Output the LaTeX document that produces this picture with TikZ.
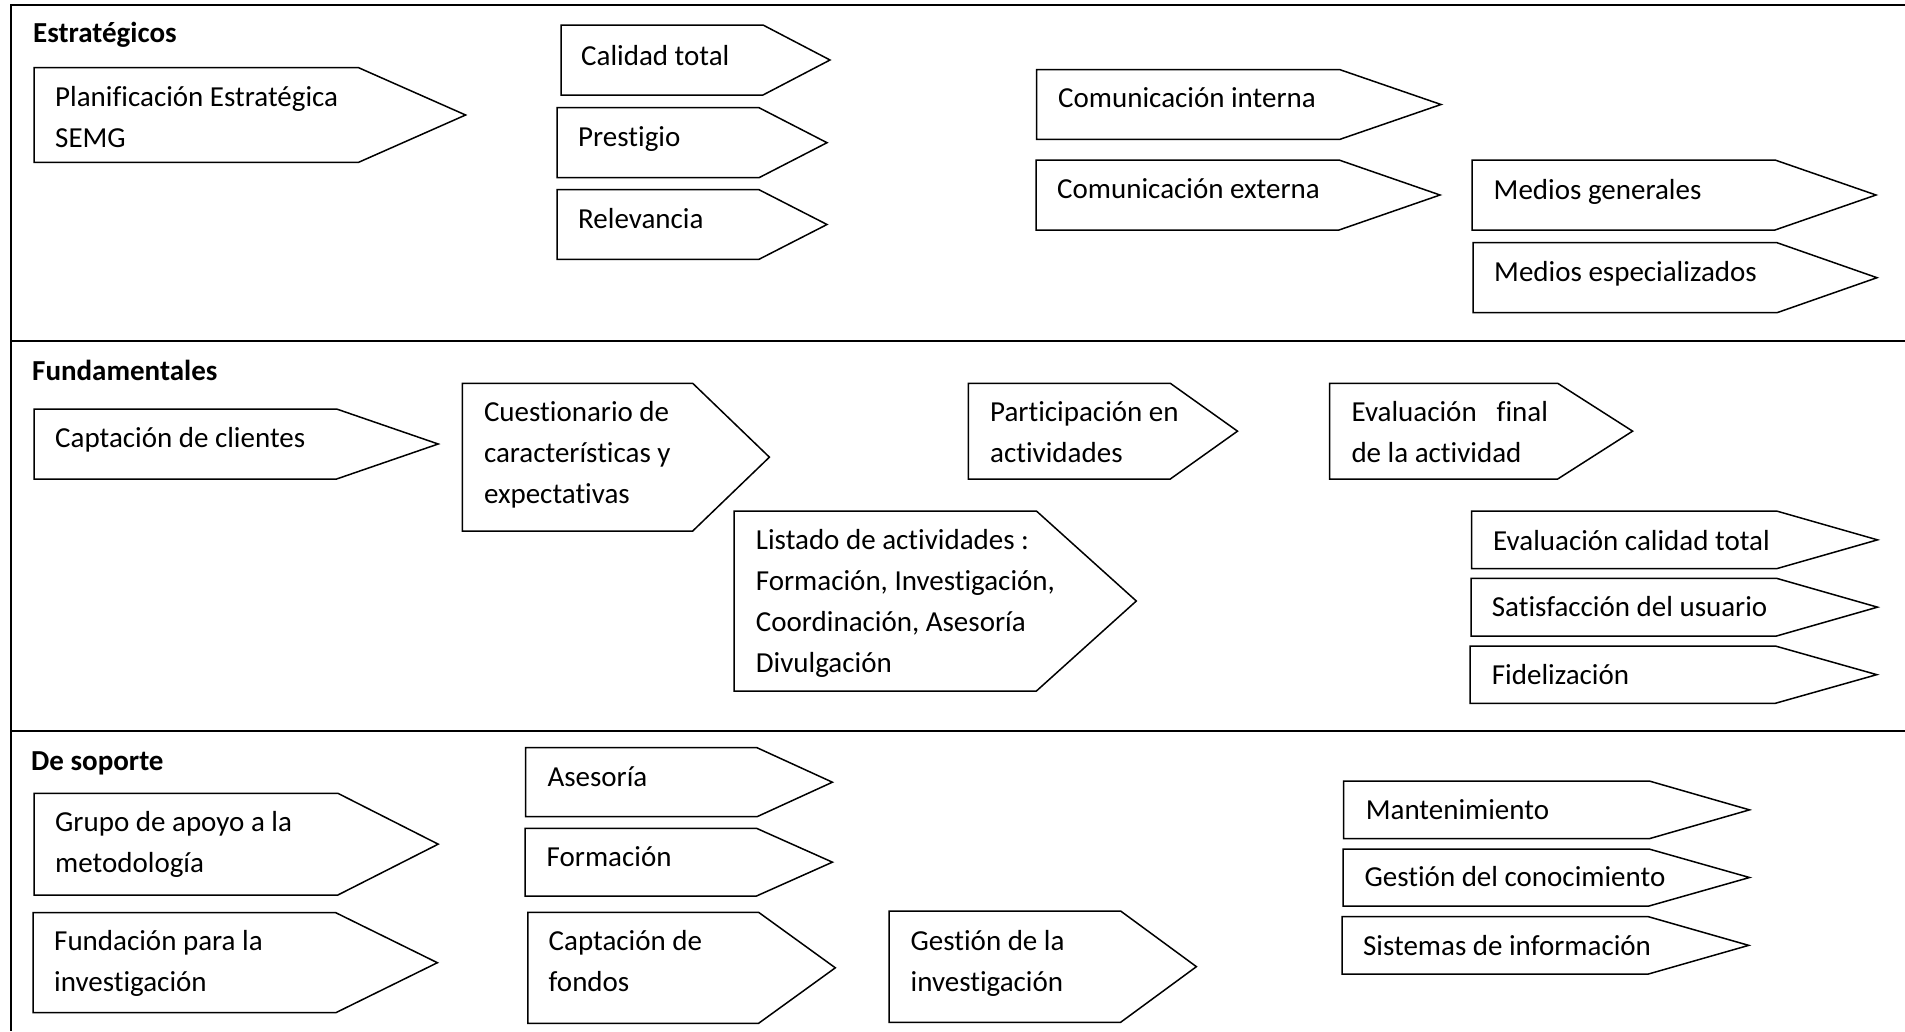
\documentclass[tikz,border=0pt]{standalone}
\usepackage{fontspec}
\setmainfont{Carlito}[Ligatures=CommonOff]
\tikzset{
  x=1pt, y=-1pt,
  frameline/.style={line width=2.2pt},
  tagshape/.style={draw, line width=1.5pt, line join=miter},
  tagtext/.style={anchor=base west, inner sep=0pt, font=\fontsize{29}{41}\selectfont},
  headtext/.style={anchor=base west, inner sep=0pt, font=\fontsize{29}{41}\selectfont\bfseries},
}
% multi-line label whose baseline is the first line
\newcommand\tagrows[1]{\begin{tabular}[t]{@{}l@{}}#1\end{tabular}}
% pointed tag: name, left, top, bottom, shoulder x, tip x, text x, text baseline, text
\newcommand\tagbox[9]{%
  \draw[tagshape] (#2,#3) -- (#5,#3) -- (#6,{(#3+#4)/2}) -- (#5,#4) -- (#2,#4) -- cycle;
  \node[tagtext] (#1) at (#7,#8) {#9};
}
\begin{document}
\begin{tikzpicture}
\useasboundingbox (0,0) rectangle (1905,1031);

% frame and band dividers
\draw[frameline] (1905,5) -- (11,5) -- (11,1031);
\draw[frameline] (11,341) -- (1905,341);
\draw[frameline] (11,731) -- (1905,731);

% band headings
\node[headtext] (hest) at (33,42.7) {Estratégicos};
\node[headtext] (hfun) at (32,380) {Fundamentales};
\node[headtext] (hsop) at (31,770) {De soporte};

% Estratégicos
\tagbox{plan}{34}{67.7}{162.3}{358.6}{465.6}{55}{106}{\tagrows{Planificación Estratégica\\SEMG}}
\tagbox{calidad}{561}{25}{95}{763}{830}{581}{65}{Calidad total}
\tagbox{prestigio}{557}{107.7}{177.7}{759}{827}{578}{146}{Prestigio}
\tagbox{relevancia}{557}{189.7}{259.3}{759}{827}{578}{228}{Relevancia}
\tagbox{cominterna}{1036.5}{69.7}{139.3}{1340}{1441}{1058}{107.5}{Comunicación interna}
\tagbox{comexterna}{1036}{160}{230}{1339}{1440}{1057}{198.5}{Comunicación externa}
\tagbox{mediosgen}{1472}{160}{230}{1775}{1876}{1493.5}{199}{Medios generales}
\tagbox{mediosesp}{1473}{242.7}{312.7}{1777}{1877}{1494}{281.5}{Medios especializados}

% Fundamentales
\tagbox{captclientes}{34}{409}{479}{336.6}{438.2}{55}{447.3}{Captación de clientes}
\tagbox{cuestionario}{462.3}{383.3}{531}{692.7}{769.4}{483.8}{421.7}{\tagrows{Cuestionario de\\características y\\expectativas}}
\tagbox{participacion}{968.4}{383.3}{479}{1170.3}{1237.5}{990}{421.7}{\tagrows{Participación en\\actividades}}
\tagbox{evalfinal}{1329.7}{383.3}{479}{1557.7}{1632.6}{1351.3}{421.7}{\tagrows{Evaluación\hspace{20pt}final\\de la actividad}}
\tagbox{listado}{734.2}{511}{691}{1036.4}{1136.3}{755.7}{549}{\tagrows{Listado de actividades :\\Formación, Investigación,\\Coordinación, Asesoría\\Divulgación}}
\tagbox{evalcal}{1471.7}{511}{568.7}{1776.5}{1877.5}{1493}{550}{Evaluación calidad total}
\tagbox{satisf}{1471}{578.3}{636}{1776.5}{1877.5}{1491.7}{616.7}{Satisfacción del usuario}
\tagbox{fideliz}{1470}{646}{703.3}{1775.3}{1876.8}{1491.7}{684}{Fidelización}

% De soporte
\tagbox{grupo}{34}{793.3}{895}{337.9}{438.2}{55}{831.7}{\tagrows{Grupo de apoyo a la\\metodología}}
\tagbox{fundacion}{33.2}{912.7}{1012.7}{335.8}{437.4}{54}{950}{\tagrows{Fundación para la\\investigación}}
\tagbox{asesoria}{525.7}{747.7}{816.7}{757}{832.4}{547.3}{786}{Asesoría}
\tagbox{formacion}{525}{828.3}{896}{756.5}{832.4}{546.5}{866.7}{Formación}
\tagbox{captfondos}{527.8}{912.3}{1023.3}{758.6}{835.3}{548.5}{950}{\tagrows{Captación de\\fondos}}
\tagbox{gestinv}{889.2}{911}{1022.3}{1120.6}{1196.4}{910.4}{950}{\tagrows{Gestión de la\\investigación}}
\tagbox{manten}{1343.6}{781}{838.7}{1649.2}{1749.5}{1365.6}{819.3}{Mantenimiento}
\tagbox{gestcon}{1343.2}{849}{906}{1649}{1749.5}{1364.4}{886.7}{Gestión del conocimiento}
\tagbox{sistemas}{1342}{916.7}{974}{1648.4}{1748.7}{1362.9}{955}{Sistemas de información}
\end{tikzpicture}
\end{document}
